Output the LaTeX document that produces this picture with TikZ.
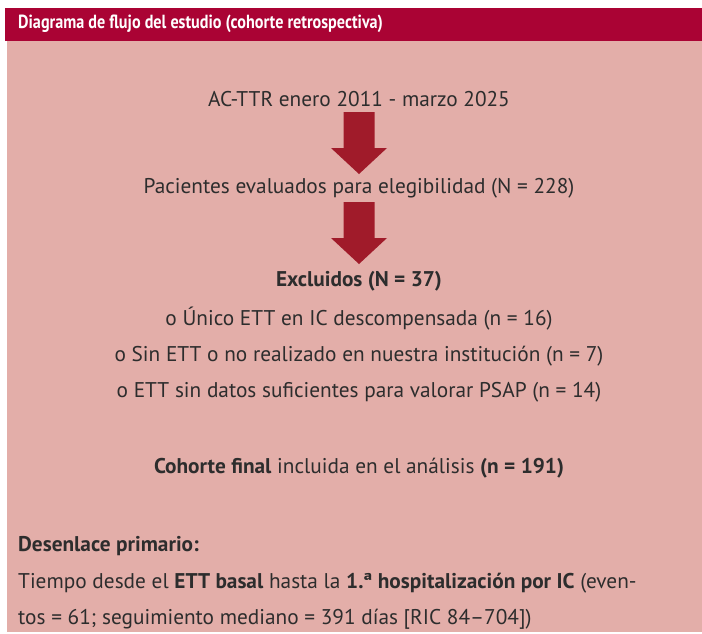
\documentclass[tikz,border=0pt]{standalone}
\usepackage{fontspec}
\setmainfont{PT Sans}
\newfontfamily\headfont[FakeStretch=0.85]{PT Sans}
\usepackage{xcolor}
\usetikzlibrary{positioning}
\definecolor{headred}{RGB}{170,3,52}
\definecolor{boxpink}{RGB}{227,174,169}
\definecolor{arrowred}{RGB}{160,27,42}
\definecolor{textgray}{RGB}{45,45,45}
\tikzset{
    line/.style={text=textgray, font=\fontsize{21.3}{25}\selectfont, inner sep=0pt, anchor=center},
    leftline/.style={line, anchor=west},
    titletext/.style={text=white, font=\headfont\fontsize{19}{22}\selectfont\bfseries, inner sep=0pt, anchor=west}
}

\begin{document}
\begin{tikzpicture}[x=1pt, y=-1pt]
    \useasboundingbox (0,0) rectangle (702,633);
    
    % background
    \fill[white] (0,0) rectangle (702,633);
    \fill[headred] (5,8) rectangle (702,41);
    \fill[boxpink] (6.5,41) rectangle (702,632);
    \node[titletext] (title) at (18,24) {Diagrama de flujo del estudio (cohorte retrospectiva)};
    
    % flow
    \node[line] (source) at (359,99) {AC-TTR enero 2011 - marzo 2025};
    \node[line] (screened) at (359,188) {Pacientes evaluados para elegibilidad (N = 228)};
    \node[line] (excl) at (359,281) {\textbf{Excluidos (N = 37)}};
    \node[line] (exclA) at (359,319) {o Único ETT en IC descompensada (n = 16)};
    \node[line] (exclB) at (359,356) {o Sin ETT o no realizado en nuestra institución (n = 7)};
    \node[line] (exclC) at (359,392) {o ETT sin datos suficientes para valorar PSAP (n = 14)};
    \node[line] (cohort) at (359,468) {\textbf{Cohorte final} incluida en el análisis \textbf{(n = 191)}};
    
    % arrows
    \coordinate (arrA) at (source.south |- 0,112);
    \coordinate (arrB) at (screened.south |- 0,202);
    \foreach \a in {arrA,arrB}
        \fill[arrowred] (\a) ++(-15.5,0) -- ++(0,36) -- ++(-12.5,0) -- ++(28,26)
            -- ++(28,-26) -- ++(-12.5,0) -- ++(0,-36) -- cycle;
    
    % outcome
    \node[leftline] (outhead) at (18,546) {\textbf{Desenlace primario:}};
    \node[leftline] (outA) at (18,583) {Tiempo desde el \textbf{ETT basal} hasta la \textbf{1.ª hospitalización por IC} (even-};
    \node[leftline] (outB) at (18,619) {tos = 61; seguimiento mediano = 391 días [RIC 84–704])};
    
\end{tikzpicture}
\end{document}
